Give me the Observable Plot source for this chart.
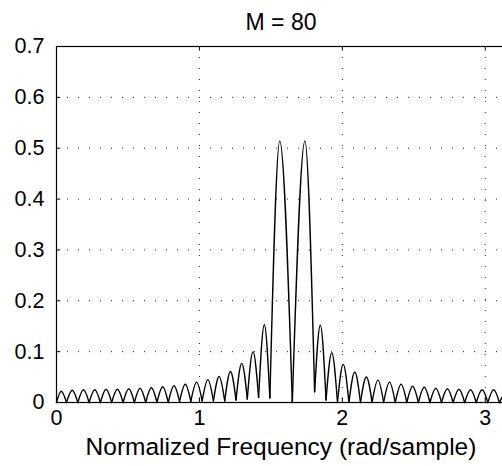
<!DOCTYPE html>
<html>
<head>
<meta charset="utf-8">
<script src="https://cdn.jsdelivr.net/npm/d3@7"></script>
<script src="https://cdn.jsdelivr.net/npm/@observablehq/plot@0.6"></script>
<style>
  html, body { margin: 0; padding: 0; background: #fff; overflow: hidden; }
  #chart { width: 502px; height: 466px; overflow: hidden; }
  #chart svg { max-width: none !important; width: 560px !important; height: 466px !important; }
</style>
</head>
<body>
<div id="chart"></div>
<script>
// Local minima (lobe boundaries) of the magnitude curve
const minX = [0, 0.070, 0.149, 0.228, 0.307, 0.386, 0.466, 0.545, 0.624, 0.703,
  0.782, 0.861, 0.940, 1.019, 1.098, 1.177, 1.256, 1.335, 1.414, 1.493,
  1.650, 1.806, 1.886, 1.966, 2.046, 2.127, 2.208, 2.289, 2.370, 2.451,
  2.532, 2.613, 2.694, 2.775, 2.856, 2.937, 3.018, 3.099];
const minY = [0, 0, 0, 0, 0, 0, 0, 0, 0, 0,
  0, 0.002, 0.002, 0.003, 0.003, 0.003, 0.005, 0.007, 0.010, 0.009,
  0, 0.021, 0.005, 0, 0, 0, 0, 0, 0, 0,
  0, 0, 0, 0, 0, 0, 0, 0];
// Lobe peaks
const peakX = [0.033, 0.110, 0.189, 0.268, 0.347, 0.426, 0.506, 0.585, 0.664, 0.743,
  0.822, 0.901, 0.980, 1.059, 1.138, 1.217, 1.296, 1.375, 1.454, 1.562,
  1.738, 1.846, 1.926, 2.006, 2.087, 2.168, 2.249, 2.330, 2.411, 2.492,
  2.573, 2.654, 2.735, 2.816, 2.897, 2.978, 3.059, 3.1416];
const peakY = [0.022, 0.024, 0.025, 0.025, 0.026, 0.026, 0.027, 0.028, 0.029, 0.031,
  0.033, 0.036, 0.040, 0.045, 0.051, 0.061, 0.077, 0.100, 0.153, 0.514,
  0.514, 0.152, 0.098, 0.075, 0.060, 0.050, 0.044, 0.040, 0.036, 0.032,
  0.030, 0.028, 0.027, 0.026, 0.025, 0.025, 0.025, 0.024];

const xTicks = [0, 1, 2, 3];
const xTickLabels = ["0", "1", "2", "3"];
const yTicks = [0, 0.1, 0.2, 0.3, 0.4, 0.5, 0.6, 0.7];
const yTickLabels = ["0", "0.1", "0.2", "0.3", "0.4", "0.5", "0.6", "0.7"];
const xDomain = [0, Math.PI];
const yDomain = [0, 0.7];
const titleText = "M = 80";
const xLabelText = "Normalized Frequency (rad/sample)";

// Build each lobe as its own short series: minimum -> peak -> next minimum
const lobes = peakX.flatMap((px, i) => {
  const pts = [{x: minX[i], y: minY[i], lobe: i}, {x: px, y: peakY[i], lobe: i}];
  if (i + 1 < minX.length) pts.push({x: minX[i + 1], y: minY[i + 1], lobe: i});
  return pts;
});

const font = "'Liberation Sans', Arial, Helvetica, sans-serif";

const chart = Plot.plot({
  width: 560,
  height: 466,
  marginLeft: 56,
  marginRight: 55,
  marginTop: 46,
  marginBottom: 64,
  style: {fontFamily: font, background: "#fff", color: "#000", maxWidth: "none"},
  x: {domain: xDomain},
  y: {domain: yDomain},
  marks: [
    // dotted grid
    Plot.ruleX(xTicks.filter(d => d > 0), {stroke: "#000", strokeWidth: 1, strokeDasharray: "1,10", strokeOpacity: 0.85}),
    Plot.ruleY(yTicks.filter(d => d > 0 && d < 0.7), {stroke: "#000", strokeWidth: 1, strokeDasharray: "1,10", strokeOpacity: 0.85}),
    // inward tick marks
    Plot.ruleX(xTicks, {y1: 0, y2: 0.009, stroke: "#000"}),
    Plot.ruleX(xTicks, {y1: 0.7, y2: 0.691, stroke: "#000"}),
    Plot.ruleY(yTicks, {x1: 0, x2: 0.03, stroke: "#000"}),
    // curve
    Plot.line(lobes, {x: "x", y: "y", z: "lobe", curve: "monotone-x", stroke: "#000", strokeWidth: 1.4}),
    Plot.frame({stroke: "#000", strokeWidth: 1.2}),
    Plot.axisX({ticks: xTicks, tickSize: 0, tickPadding: 7, fontSize: 21.5, label: null,
      tickFormat: d => xTickLabels[xTicks.indexOf(d)]}),
    Plot.axisY({ticks: yTicks, tickSize: 0, tickPadding: 12, fontSize: 21.5, label: null,
      tickFormat: d => yTickLabels[yTicks.indexOf(d)]}),
    Plot.text([titleText], {frameAnchor: "top", dy: -24, lineAnchor: "middle", fontSize: 23, fill: "#000"}),
    Plot.text([xLabelText], {frameAnchor: "bottom", dy: 45, lineAnchor: "middle", fontSize: 24.5, fill: "#000"})
  ]
});
document.getElementById("chart").appendChild(chart);
</script>
</body>
</html>
